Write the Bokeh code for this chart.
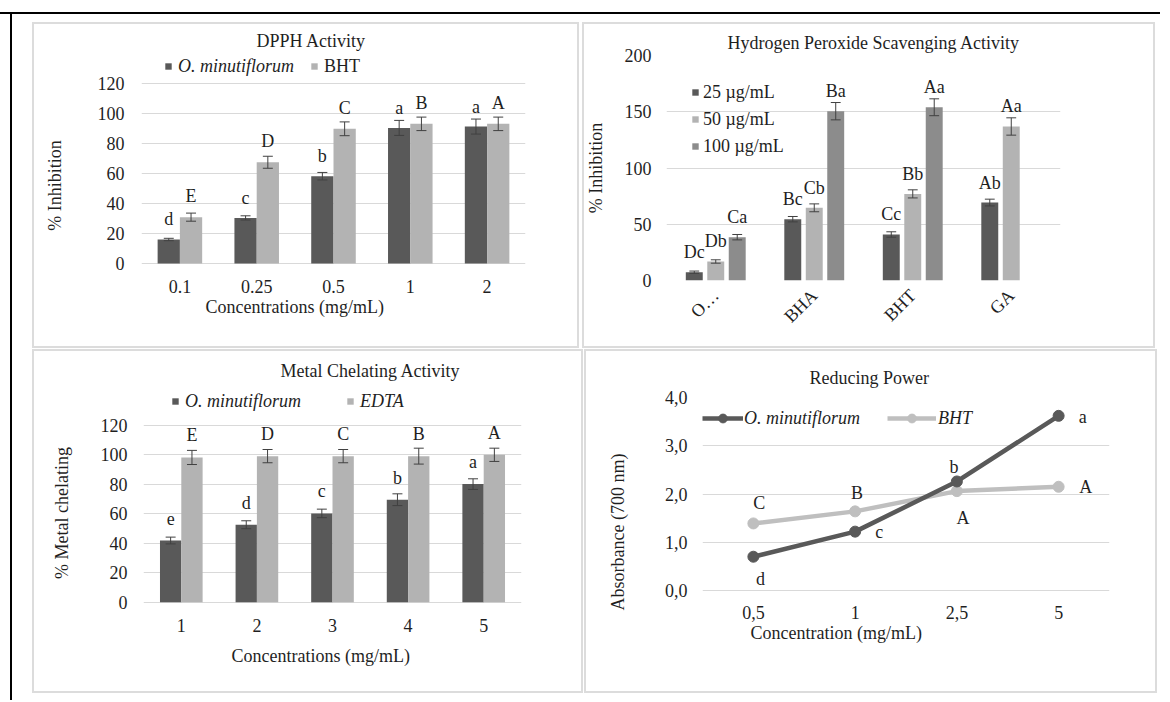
import math
from bokeh.plotting import figure
from bokeh.models import (ColumnDataSource, FactorRange, Range1d, FixedTicker, Legend,
                          LegendItem, Div, Spacer, CustomJSTickFormatter, Title)
from bokeh.layouts import row, column
from bokeh.transform import dodge
from bokeh.core.properties import value
from bokeh.embed import file_html
from bokeh.resources import INLINE

# ---------------- data ----------------
# DPPH activity
dpph_conc = ["0.1", "0.25", "0.5", "1", "2"]
dpph_om = [16.0, 30.4, 58.2, 90.4, 91.3]
dpph_om_err = [0.8, 1.4, 2.5, 5.0, 5.0]
dpph_om_sig = ["d", "c", "b", "a", "a"]
dpph_bht = [30.9, 67.5, 89.8, 93.1, 93.1]
dpph_bht_err = [2.7, 4.0, 4.6, 4.5, 4.5]
dpph_bht_sig = ["E", "D", "C", "B", "A"]

# Hydrogen peroxide scavenging activity
h2o2_samples = ["O\u2026", "BHA", "BHT", "GA"]
h2o2_25 = [7.4, 54.5, 40.9, 69.3]
h2o2_25_err = [1.0, 2.4, 2.4, 3.0]
h2o2_25_sig = ["Dc", "Bc", "Cc", "Ab"]
h2o2_50 = [16.9, 64.6, 77.0, 136.9]
h2o2_50_err = [1.5, 3.5, 3.6, 7.7]
h2o2_50_sig = ["Db", "Cb", "Bb", "Aa"]
h2o2_100_samples = ["O\u2026", "BHA", "BHT"]
h2o2_100 = [38.5, 150.5, 154.0]
h2o2_100_err = [2.4, 7.7, 7.5]
h2o2_100_sig = ["Ca", "Ba", "Aa"]

# Metal chelating activity
metal_conc = ["1", "2", "3", "4", "5"]
metal_om = [41.9, 52.6, 60.3, 69.6, 80.2]
metal_om_err = [2.3, 2.7, 2.9, 4.0, 3.6]
metal_om_sig = ["e", "d", "c", "b", "a"]
metal_edta = [98.3, 99.2, 99.2, 99.2, 100.1]
metal_edta_err = [4.8, 4.5, 4.5, 5.4, 4.5]
metal_edta_sig = ["E", "D", "C", "B", "A"]

# Reducing power
rp_conc = ["0,5", "1", "2,5", "5"]
rp_om = [0.70, 1.22, 2.26, 3.62]
rp_om_sig = ["d", "c", "b", "a"]
rp_bht = [1.39, 1.64, 2.06, 2.15]
rp_bht_sig = ["C", "B", "A", "A"]

# ---------------- style ----------------
FONT = "Liberation Serif"
FS = "18px"
DARK = "#595959"
LIGHT = "#b3b3b3"
MID = "#8c8c8c"
LINE_LIGHT = "#bfbfbf"
GRID = "#d9d9d9"
TXT = "#1f1f1f"
ERR = "#404040"
PANEL_STYLE = {"outline": "2px solid #dcdcdc", "outline-offset": "-2px"}


def base_fig(cats, y0, y1, ticks, w, h, ml, mr, mt, mb):
    p = figure(x_range=FactorRange(factors=cats), y_range=Range1d(y0, y1),
               width=w, height=h, output_backend="svg", toolbar_location=None,
               min_border_left=ml, min_border_right=mr, min_border_top=mt,
               min_border_bottom=mb, margin=0)
    p.styles = PANEL_STYLE
    p.outline_line_color = None
    p.border_fill_color = None
    p.background_fill_color = "white"
    p.xgrid.visible = False
    p.ygrid.grid_line_color = GRID
    p.ygrid.grid_line_width = 1
    p.yaxis.ticker = FixedTicker(ticks=ticks)
    for ax in (p.xaxis[0], p.yaxis[0]):
        ax.major_label_text_font = FONT
        ax.major_label_text_font_size = FS
        ax.major_label_text_color = TXT
        ax.axis_label_text_font = FONT
        ax.axis_label_text_font_size = FS
        ax.axis_label_text_font_style = "normal"
        ax.axis_label_text_color = TXT
        ax.major_tick_line_color = None
        ax.minor_tick_line_color = None
        ax.major_tick_out = 0
        ax.major_tick_in = 0
        ax.axis_line_color = None
    p.title.text_font = FONT
    p.title.text_font_size = FS
    p.title.text_font_style = "normal"
    p.title.text_color = TXT
    p.title.align = "left"
    return p


def x_title(p, text, offset, standoff):
    t = Title(text=text, align="left", vertical_align="top", offset=offset,
              standoff=standoff, text_font=FONT, text_font_size=FS,
              text_font_style="normal", text_color=TXT)
    p.add_layout(t, "below")


def add_bars(p, cats, vals, errs, sigs, off, bw, color, cap, lab_dy):
    src = ColumnDataSource(dict(
        x=cats, top=vals,
        up=[v + e for v, e in zip(vals, errs)],
        lo=[v - e for v, e in zip(vals, errs)],
        sig=sigs))
    r = p.vbar(x=dodge("x", off, range=p.x_range), top="top", bottom=0, width=bw,
               source=src, fill_color=color, line_color=None)
    p.segment(x0=dodge("x", off, range=p.x_range), y0="lo",
              x1=dodge("x", off, range=p.x_range), y1="up",
              source=src, line_color=ERR, line_width=1)
    for end in ("up", "lo"):
        p.segment(x0=dodge("x", off - cap, range=p.x_range), y0=end,
                  x1=dodge("x", off + cap, range=p.x_range), y1=end,
                  source=src, line_color=ERR, line_width=1)
    p.text(x=dodge("x", off, range=p.x_range), y="top", text="sig", source=src,
           y_offset=lab_dy, text_align="center", text_baseline="alphabetic",
           text_font=value(FONT), text_font_size=FS, text_color=TXT)
    return r


def make_legend(items, loc, italic, orientation="horizontal", gw=8, gh=8, standoff=6, spacing=5):
    return Legend(items=items, location=loc, orientation=orientation,
                  border_line_color=None, background_fill_alpha=0,
                  padding=0, margin=0, spacing=spacing,
                  glyph_width=gw, glyph_height=gh, label_standoff=standoff,
                  label_text_font=FONT, label_text_font_size=FS,
                  label_text_color=TXT, label_height=22,
                  label_text_font_style="italic" if italic else "normal")


# ---------------- panel 1: DPPH ----------------
p1 = base_fig(dpph_conc, -34.67, 138.67, [0, 20, 40, 60, 80, 100, 120], 547, 326, 109, 54, 33, 33)
p1.title.text = "DPPH  Activity"
p1.title.offset = 115
p1.title.standoff = 10
r1a = add_bars(p1, dpph_conc, dpph_om, dpph_om_err, dpph_om_sig, -0.145, 0.29, DARK, 0.065, -20)
r1b = add_bars(p1, dpph_conc, dpph_bht, dpph_bht_err, dpph_bht_sig, 0.145, 0.29, LIGHT, 0.065, -21)
p1.yaxis.axis_label = "% Inhibition"
p1.yaxis.major_label_standoff = 17
p1.yaxis.axis_label_standoff = 30
p1.xaxis.major_label_standoff = -36
x_title(p1, "Concentrations (mg/mL)", 64, -37)
p1.add_layout(make_legend([LegendItem(label="O. minutiflorum", renderers=[r1a])], (23, 238), True))
p1.add_layout(make_legend([LegendItem(label="BHT", renderers=[r1b])], (169, 238), False))

# ---------------- panel 2: H2O2 ----------------
p2 = base_fig(h2o2_samples, 0, 200, [0, 50, 100, 150, 200], 573, 326, 83, 95, 33, 68)
p2.title.text = "Hydrogen Peroxide Scavenging Activity"
p2.title.offset = 61
p2.title.standoff = 6
r2a = add_bars(p2, h2o2_samples, h2o2_25, h2o2_25_err, h2o2_25_sig, -0.218, 0.172, DARK, 0.05, -20)
r2b = add_bars(p2, h2o2_samples, h2o2_50, h2o2_50_err, h2o2_50_sig, 0.0, 0.172, LIGHT, 0.05, -20)
r2c = add_bars(p2, h2o2_100_samples, h2o2_100, h2o2_100_err, h2o2_100_sig, 0.218, 0.172, MID, 0.05, -20)
p2.yaxis.axis_label = "% Inhibition"
p2.yaxis.major_label_standoff = 15
p2.yaxis.axis_label_standoff = 16
p2.xaxis.major_label_orientation = math.pi / 4
p2.xaxis.major_label_standoff = 12
p2.add_layout(make_legend([LegendItem(label="25 \u00b5g/mL", renderers=[r2a]),
                           LegendItem(label="50 \u00b5g/mL", renderers=[r2b]),
                           LegendItem(label="100 \u00b5g/mL", renderers=[r2c])],
                          (25, 123), False, orientation="vertical", spacing=5, standoff=4))

# ---------------- panel 3: metal chelating ----------------
p3 = base_fig(metal_conc, -26.0, 147.16, [0, 20, 40, 60, 80, 100, 120], 551, 344, 111, 62, 36, 53)
p3.title.text = "Metal Chelating Activity"
p3.title.offset = 137
p3.title.standoff = 10
r3a = add_bars(p3, metal_conc, metal_om, metal_om_err, metal_om_sig, -0.141, 0.282, DARK, 0.066, -22)
r3b = add_bars(p3, metal_conc, metal_edta, metal_edta_err, metal_edta_sig, 0.141, 0.282, LIGHT, 0.066, -22)
p3.yaxis.axis_label = "% Metal chelating"
p3.yaxis.major_label_standoff = 16
p3.yaxis.axis_label_standoff = 26
p3.xaxis.major_label_standoff = -22
x_title(p3, "Concentrations (mg/mL)", 88, 10)
p3.add_layout(make_legend([LegendItem(label="O. minutiflorum", renderers=[r3a])], (28, 228), True))
p3.add_layout(make_legend([LegendItem(label="EDTA", renderers=[r3b])], (203, 228), True))

# ---------------- panel 4: reducing power ----------------
p4 = base_fig(rp_conc, -1.575, 4.0, [0, 1, 2, 3, 4], 573, 344, 118, 48, 48, 27)
p4.title.text = "Reducing Power"
p4.title.offset = 107
p4.title.standoff = 20
p4.yaxis.formatter = CustomJSTickFormatter(code="return tick.toFixed(1).replace('.', ',');")
src_om = ColumnDataSource(dict(x=rp_conc, y=rp_om, sig=rp_om_sig,
                               dx=[7, 24, -3, 24], dy=[22, 0, -14, 1]))
src_bht = ColumnDataSource(dict(x=rp_conc, y=rp_bht, sig=rp_bht_sig,
                                dx=[6, 2, 6, 27], dy=[-20, -18, 27, 0]))
l4b = p4.line("x", "y", source=src_bht, line_color=LINE_LIGHT, line_width=4.5)
s4b = p4.scatter("x", "y", source=src_bht, marker="circle", size=11,
                 fill_color=LINE_LIGHT, line_color=LINE_LIGHT)
l4a = p4.line("x", "y", source=src_om, line_color=DARK, line_width=4.5)
s4a = p4.scatter("x", "y", source=src_om, marker="circle", size=11,
                 fill_color=DARK, line_color=DARK)
for src in (src_om, src_bht):
    p4.text(x="x", y="y", text="sig", source=src, x_offset="dx", y_offset="dy",
            text_align="center", text_baseline="alphabetic",
            text_font=value(FONT), text_font_size=FS, text_color=TXT)
p4.yaxis.axis_label = "Absorbance (700 nm)"
p4.yaxis.major_label_standoff = 15
p4.yaxis.axis_label_standoff = 34
p4.xaxis.major_label_standoff = -61
x_title(p4, "Concentration (mg/mL)", 48, -87)
p4.add_layout(make_legend([LegendItem(label="O. minutiflorum", renderers=[l4a, s4a])],
                          (0, 237), True, gw=41, gh=22, standoff=1))
p4.add_layout(make_legend([LegendItem(label="BHT", renderers=[l4b, s4b])],
                          (185, 237), True, gw=49, gh=22, standoff=2))

# ---------------- page layout ----------------
hline = Div(text="", width=1160, height=2, margin=0, styles={"background-color": "#000"})
vline = Div(text="", width=2, height=686, margin=0, styles={"background-color": "#000"})
grid = column(Spacer(height=8, margin=0),
              row(column(p1), Spacer(width=3, margin=0), column(p2)),
              Spacer(height=1, margin=0),
              row(column(p3), Spacer(width=1, margin=0), column(p4)))
body = row(Spacer(width=10, margin=0), vline, Spacer(width=20, margin=0), grid)
page = column(Spacer(height=12, margin=0), hline, body)

open("out.html", "w").write(file_html(page, INLINE))
